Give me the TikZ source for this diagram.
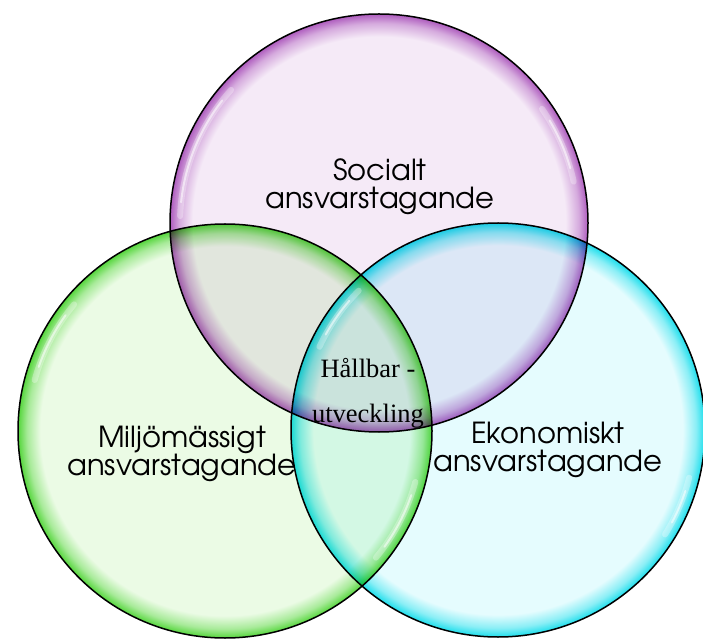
\documentclass[tikz,border=0pt]{standalone}
\usepackage{fontspec}
\setmainfont{texgyreadventor-regular.otf}
\newfontfamily\serifface{Liberation Serif}
\usetikzlibrary{calc}

% bubble colours: light interior and saturated rim
\definecolor{plight}{HTML}{F5EAF7}
\definecolor{prim}{HTML}{AE5CBE}
\colorlet{pmid}{prim!45!plight}
\definecolor{glight}{HTML}{EBFBE5}
\definecolor{grim}{HTML}{55D63C}
\colorlet{gmid}{grim!45!glight}
\definecolor{clight}{HTML}{E5FCFE}
\definecolor{crim}{HTML}{1CDEEC}
\colorlet{cmid}{crim!45!clight}

\pgfdeclareradialshading{purplebubble}{\pgfpoint{0bp}{0bp}}{%
  color(0bp)=(plight); color(22.3bp)=(plight); color(23.9bp)=(pmid);
  color(25bp)=(prim); color(50bp)=(prim)}
\pgfdeclareradialshading{greenbubble}{\pgfpoint{0bp}{0bp}}{%
  color(0bp)=(glight); color(22.3bp)=(glight); color(23.9bp)=(gmid);
  color(25bp)=(grim); color(50bp)=(grim)}
\pgfdeclareradialshading{cyanbubble}{\pgfpoint{0bp}{0bp}}{%
  color(0bp)=(clight); color(22.3bp)=(clight); color(23.9bp)=(cmid);
  color(25bp)=(crim); color(50bp)=(crim)}

\tikzset{
  bubble/.style={circle, draw=black, line width=1.5pt, inner sep=0pt},
  gloss/.style={draw=white, line width=6pt, opacity=0.3, line cap=round},
  glosscore/.style={draw=white, line width=2pt, opacity=0.55, line cap=round},
  sanslabel/.style={align=center, anchor=base, text=black,
    font=\fontsize{29}{28}\selectfont},
  seriflabel/.style={align=center, anchor=base, text=black,
    font=\serifface\fontsize{26.5}{45}\selectfont},
}

\begin{document}
\begin{tikzpicture}[x=1pt, y=1pt]
  \useasboundingbox (0,0) rectangle (703,640);

  % the three overlapping circles, blended multiplicatively
  \begin{scope}[blend group=multiply]
    \node[bubble, minimum size=418pt, shading=purplebubble] (social) at (379,417) {};
    \node[bubble, minimum size=414pt, shading=greenbubble] (miljo) at (225,209) {};
    \node[bubble, minimum size=414pt, shading=cyanbubble] (ekonomi) at (498,210) {};
  \end{scope}

  % glossy reflections along the inner rims
  \foreach \c/\a/\b/\r in {social/138/178/199, social/12/35/199,
                           miljo/140/165/197, miljo/-40/-15/197,
                           ekonomi/-32/-14/197, ekonomi/135/155/197} {
    \draw[gloss] ($(\c)+(\a:\r)$) arc[start angle=\a, end angle=\b, radius=\r];
    \draw[glosscore] ($(\c)+(\a+4:\r)$) arc[start angle=\a+4, end angle=\b-4, radius=\r];
  }

  % labels
  \node[sanslabel] (socialtext) at (380,431) {Socialt\\ansvarstagande};
  \node[sanslabel] (miljotext) at (182,165) {Miljömässigt\\ansvarstagande};
  \node[sanslabel] (ekonomitext) at (548,169) {Ekonomiskt\\ansvarstagande};
  \node[seriflabel] (centertext) at (368,218) {Hållbar -\\utveckling};
\end{tikzpicture}
\end{document}
